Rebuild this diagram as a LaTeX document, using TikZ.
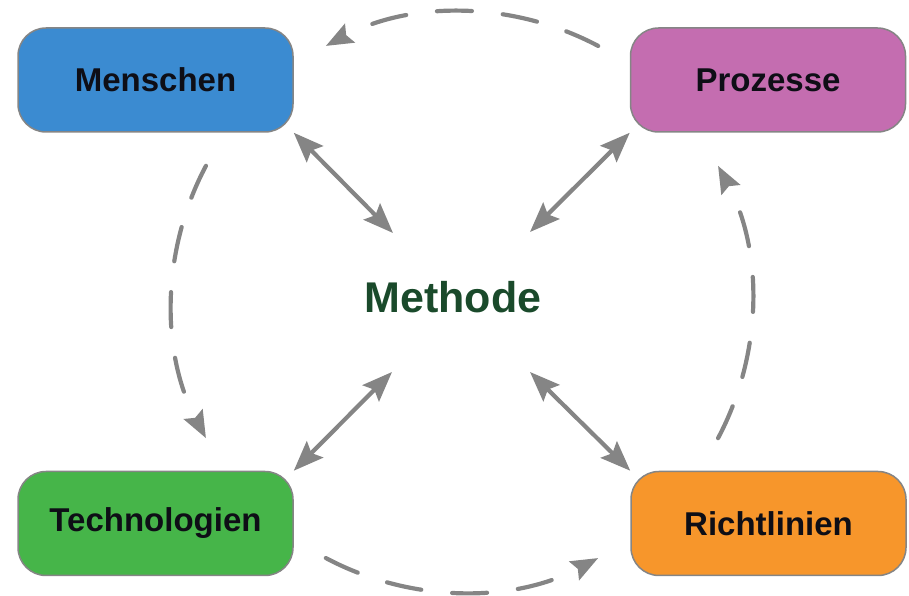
\documentclass[tikz,border=0pt]{standalone}
\usepackage{fontspec}
\setmainfont{Liberation Sans}
\usetikzlibrary{arrows.meta,calc}

\definecolor{boxblue}{HTML}{3B8BD1}
\definecolor{boxpink}{HTML}{C46DB0}
\definecolor{boxgreen}{HTML}{46B549}
\definecolor{boxorange}{HTML}{F7962B}
\definecolor{boxline}{HTML}{858585}
\definecolor{linkgray}{HTML}{858585}
\definecolor{labelink}{HTML}{0E0E16}
\definecolor{methodgreen}{HTML}{1A4A2B}

\tikzset{
  area/.style={draw=boxline, line width=1.5pt, rounded corners=28pt,
    minimum width=275pt, minimum height=104pt, inner sep=0pt,
    text=labelink, font=\fontsize{33}{40}\selectfont\bfseries},
  link/.style={draw=linkgray, line width=4.2pt,
    {Stealth[length=30pt,width=23pt,inset=5pt]}-{Stealth[length=30pt,width=23pt,inset=5pt]}},
  cycle/.style={draw=linkgray, line width=4.2pt, line cap=round,
    dash pattern=on 35pt off 31pt,
    -{Stealth[length=27pt,width=21pt,inset=4pt]}},
}

\begin{document}
\begin{tikzpicture}[x=1pt,y=1pt]
  \useasboundingbox (0,0) rectangle (909,596);

  % the four fields
  \node[area, fill=boxblue]   (men)  at (155.5,516)  {Menschen};
  \node[area, fill=boxpink]   (proz) at (768,516)    {Prozesse};
  \node[area, fill=boxgreen]  (tech) at (155.5,72.5) {Technologien};
  \node[area, fill=boxorange] (rich) at (768.5,72.5) {Richtlinien};

  % centre label
  \node[text=methodgreen, font=\fontsize{43}{50}\selectfont\bfseries]
    (meth) at (453,299) {Methode};

  % inner ends of the exchange arrows
  \coordinate (inNW) at (393,363);
  \coordinate (inNE) at (530,364);
  \coordinate (inSW) at (392,224);
  \coordinate (inSE) at (530,224);

  \draw[link] (men.south east)  -- (inNW);
  \draw[link] (proz.south west) -- (inNE);
  \draw[link] (tech.north east) -- (inSW);
  \draw[link] (rich.north west) -- (inSE);

  % the dashed cycle around the centre
  \coordinate (ctr) at (462,294);
  \draw[cycle] ($(ctr)+(62:290)$)  arc[start angle=62,  end angle=118, radius=290];
  \draw[cycle] ($(ctr)+(152:290)$) arc[start angle=152, end angle=208, radius=290];
  \draw[cycle] ($(ctr)+(242:290)$) arc[start angle=242, end angle=298, radius=290];
  \draw[cycle] ($(ctr)+(332:290)$) arc[start angle=332, end angle=388, radius=290];
\end{tikzpicture}
\end{document}
